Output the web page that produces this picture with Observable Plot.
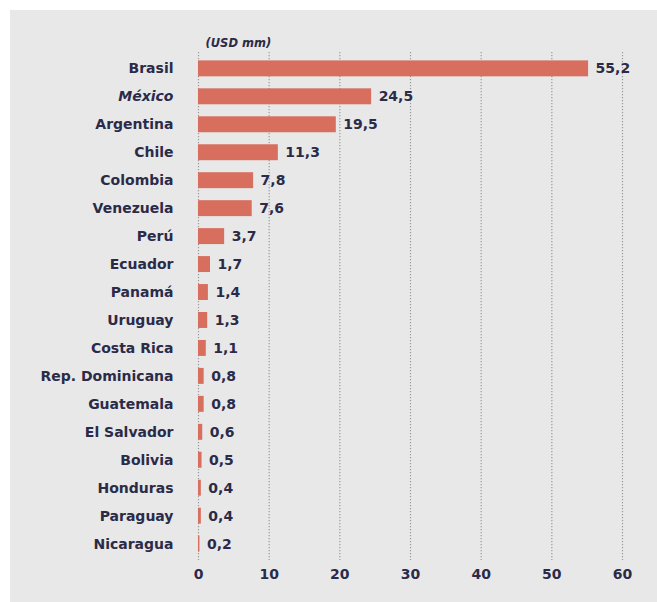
<!DOCTYPE html>
<html>
<head>
<meta charset="utf-8">
<script src="https://cdn.jsdelivr.net/npm/d3@7"></script>
<script src="https://cdn.jsdelivr.net/npm/@observablehq/plot@0.6"></script>
<style>
  html, body { margin: 0; padding: 0; background: #ffffff; }
  #panel { position: absolute; left: 10px; top: 10px; width: 647px; height: 592px; background: #e8e8e8; }
  #panel svg { display: block; }
</style>
</head>
<body>
<div id="panel"></div>
<script>
const countries = ["Brasil","México","Argentina","Chile","Colombia","Venezuela","Perú","Ecuador","Panamá","Uruguay","Costa Rica","Rep. Dominicana","Guatemala","El Salvador","Bolivia","Honduras","Paraguay","Nicaragua"];
const values = [55.2,24.5,19.5,11.3,7.8,7.6,3.7,1.7,1.4,1.3,1.1,0.8,0.8,0.6,0.5,0.4,0.4,0.2];
const xTicks = [0,10,20,30,40,50,60];
const unitLabel = "(USD mm)";

const data = countries.map((c, i) => ({country: c, value: values[i]}));
const fmt = v => v.toFixed(1).replace(".", ",");
const textColor = "#2b2b48";
const font = "DejaVu Sans, Verdana, sans-serif";

const chart = Plot.plot({
  width: 647,
  height: 592,
  marginLeft: 188,
  marginRight: 35,
  marginTop: 42,
  marginBottom: 42,
  style: {background: "transparent", fontFamily: font, color: textColor},
  x: {domain: [0, 60], ticks: xTicks},
  y: {domain: countries, paddingInner: 0.43, paddingOuter: 0.3, round: false},
  marks: [
    Plot.ruleX(xTicks, {stroke: "#9a9a9a", strokeDasharray: "1.2,1.8", strokeWidth: 1.2}),
    Plot.barX(data, {x: "value", y: "country", fill: "#d76e5e"}),
    Plot.text(data, {x: "value", y: "country", text: d => fmt(d.value), textAnchor: "start", dx: 7, fontSize: 14, fontWeight: "bold", fill: textColor}),
    Plot.text(data.filter(d => d.country !== "México"), {x: 0, y: "country", text: "country", textAnchor: "end", dx: -25, fontSize: 14, fontWeight: "bold", fill: textColor}),
    Plot.text(data.filter(d => d.country === "México"), {x: 0, y: "country", text: "country", textAnchor: "end", dx: -25, fontSize: 14, fontWeight: "bold", fontStyle: "italic", fill: textColor}),
    Plot.text([unitLabel], {frameAnchor: "top-left", lineAnchor: "middle", dx: 7, dy: -9, textAnchor: "start", fontSize: 11.5, fontWeight: "bold", fontStyle: "italic", fill: textColor}),
    Plot.axisX(xTicks, {tickSize: 0, tickPadding: 9, fontSize: 14, fontWeight: "bold", fill: textColor, label: null}),
    Plot.axisY({ticks: [], label: null, tickSize: 0})
  ]
});
document.getElementById("panel").appendChild(chart);
</script>
</body>
</html>
